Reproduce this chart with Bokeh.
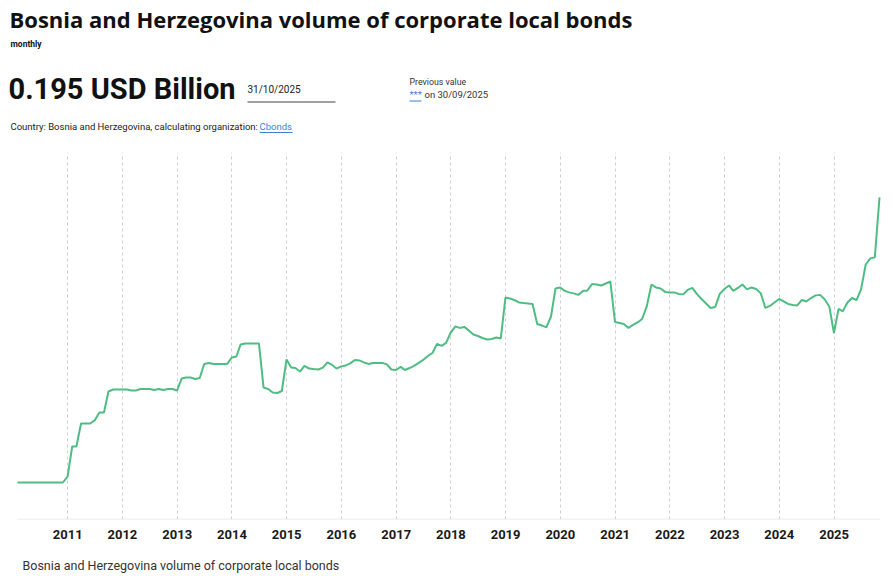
import pandas as pd
from bokeh.plotting import figure
from bokeh.models import Range1d, FixedTicker, DatetimeTickFormatter
from bokeh.layouts import column
from bokeh.core.properties import value
from bokeh.embed import file_html
from bokeh.resources import INLINE

# Monthly volume of corporate local bonds, USD billion (month-end values)
v2010 = [0.0224, 0.0224, 0.0224, 0.0224, 0.0224, 0.0224, 0.0224, 0.0224, 0.0224, 0.0224, 0.0224, 0.0260]
v2011 = [0.0442, 0.0442, 0.0581, 0.0581, 0.0581, 0.0600, 0.0648, 0.0648, 0.0775, 0.0787, 0.0787, 0.0787]
v2012 = [0.0787, 0.0781, 0.0781, 0.0790, 0.0790, 0.0790, 0.0784, 0.0790, 0.0784, 0.0790, 0.0790, 0.0781]
v2013 = [0.0854, 0.0860, 0.0860, 0.0851, 0.0857, 0.0942, 0.0948, 0.0942, 0.0942, 0.0942, 0.0942, 0.0981]
v2014 = [0.0987, 0.1060, 0.1066, 0.1066, 0.1066, 0.1066, 0.0799, 0.0790, 0.0769, 0.0766, 0.0778, 0.0969]
v2015 = [0.0920, 0.0917, 0.0896, 0.0930, 0.0914, 0.0911, 0.0908, 0.0920, 0.0951, 0.0936, 0.0914, 0.0927]
v2016 = [0.0933, 0.0945, 0.0966, 0.0963, 0.0951, 0.0942, 0.0948, 0.0948, 0.0948, 0.0939, 0.0908, 0.0905]
v2017 = [0.0924, 0.0905, 0.0917, 0.0930, 0.0948, 0.0966, 0.0990, 0.1008, 0.1063, 0.1051, 0.1069, 0.1132]
v2018 = [0.1169, 0.1160, 0.1166, 0.1145, 0.1120, 0.1111, 0.1099, 0.1090, 0.1093, 0.1102, 0.1096, 0.1344]
v2019 = [0.1338, 0.1329, 0.1314, 0.1311, 0.1308, 0.1305, 0.1184, 0.1175, 0.1163, 0.1229, 0.1399, 0.1405]
v2020 = [0.1384, 0.1375, 0.1369, 0.1360, 0.1384, 0.1387, 0.1426, 0.1423, 0.1417, 0.1429, 0.1441, 0.1196]
v2021 = [0.1190, 0.1184, 0.1160, 0.1178, 0.1193, 0.1214, 0.1290, 0.1423, 0.1405, 0.1399, 0.1378, 0.1375]
v2022 = [0.1375, 0.1366, 0.1363, 0.1390, 0.1402, 0.1366, 0.1335, 0.1308, 0.1281, 0.1287, 0.1366, 0.1396]
v2023 = [0.1417, 0.1384, 0.1402, 0.1423, 0.1393, 0.1405, 0.1396, 0.1369, 0.1281, 0.1293, 0.1314, 0.1335]
v2024 = [0.1320, 0.1305, 0.1299, 0.1296, 0.1329, 0.1320, 0.1341, 0.1357, 0.1360, 0.1332, 0.1290, 0.1129]
v2025 = [0.1275, 0.1260, 0.1314, 0.1341, 0.1329, 0.1393, 0.1544, 0.1581, 0.1587, 0.195]

tick_years = list(range(2011, 2026))

TITLE = "Bosnia and Herzegovina volume of corporate local bonds"
LATEST = "0.195 USD Billion"
LATEST_DATE = "31/10/2025"
PREV_DATE = "30/09/2025"

values = (v2010 + v2011 + v2012 + v2013 + v2014 + v2015 + v2016 + v2017
          + v2018 + v2019 + v2020 + v2021 + v2022 + v2023 + v2024 + v2025)
dates = pd.date_range("2010-01-31", periods=len(values), freq="ME")

GREEN = "#4fbd83"
BLUE = "#3d7fd6"
W = 895
PAD_L, PAD_R = 17, 16   # empty margin either side of the plotted series, px


def bare(fig):
    fig.xgrid.visible = False
    fig.ygrid.visible = False


def txt(fig, x, y, s, size, color="#111111", style="normal", font="Roboto"):
    # y is the wanted baseline; the text anchor sits about 0.4em above it
    fig.text(x=[x], y=[y - 0.4 * size], text=[s], text_font=value(font),
             text_font_size=f"{size}px", text_font_style=style, text_color=color,
             text_baseline="alphabetic", text_align="left")


def panel(height):
    fig = figure(width=W, height=height, x_range=Range1d(0, W), y_range=Range1d(height, 0),
                 output_backend="svg", toolbar_location=None, x_axis_location=None,
                 y_axis_location=None, min_border=0, outline_line_color=None)
    bare(fig)
    return fig


# ---- header block (page pixel coordinates, y grows downward) ----
hdr = panel(152)
txt(hdr, 9, 27, TITLE, 22, "#111111", "bold", "Open Sans")
txt(hdr, 10, 47, "monthly", 8.5, "#111111", "bold")
txt(hdr, 8, 100, LATEST, 29, "#111111", "bold")
txt(hdr, 247, 92.5, LATEST_DATE, 10, "#222222")
hdr.segment(x0=[247], y0=[101.5], x1=[335], y1=[101.5], line_color="#444444", line_width=1.2)
txt(hdr, 409, 85, "Previous value", 8.8, "#333333")
txt(hdr, 409, 98, "***", 9.5, BLUE)
hdr.segment(x0=[409], y0=[100.5], x1=[421], y1=[100.5], line_color=BLUE, line_width=1)
txt(hdr, 424, 98, "on " + PREV_DATE, 9.5, "#333333")
txt(hdr, 10, 130, "Country: Bosnia and Herzegovina, calculating organization:", 9.5, "#222222")
txt(hdr, 259, 130, "Cbonds", 9.5, BLUE)
hdr.segment(x0=[259], y0=[132], x1=[292], y1=[132], line_color=BLUE, line_width=1)

# ---- line chart ----
t0, t1 = dates[0], dates[-1]
per_px = (t1 - t0) / (W - PAD_L - PAD_R)
p = figure(width=W, height=398, x_axis_type="datetime",
           x_range=Range1d(t0 - PAD_L * per_px, t1 + PAD_R * per_px),
           y_range=Range1d(0, 0.2222),
           output_backend="svg", toolbar_location=None, y_axis_location=None,
           min_border_left=0, min_border_right=0, min_border_top=0,
           min_border_bottom=31, outline_line_color=None)
p.ygrid.visible = False
p.xgrid.grid_line_color = "#cfcfcf"
p.xgrid.grid_line_dash = "3 3"
p.xgrid.grid_line_width = 1

ticks = [pd.Timestamp(f"{y}-01-01").value // 10**6 for y in tick_years]
p.xaxis.ticker = FixedTicker(ticks=ticks)
p.xaxis.formatter = DatetimeTickFormatter(days="%Y", months="%Y", years="%Y")
p.xaxis.axis_line_color = None
p.xaxis.major_tick_line_color = None
p.xaxis.minor_tick_line_color = None
p.xaxis.major_label_text_font = "Roboto"
p.xaxis.major_label_text_font_style = "bold"
p.xaxis.major_label_text_font_size = "13px"
p.xaxis.major_label_text_color = "#1a1a1a"
p.xaxis.major_label_standoff = 4

# light base line under the series, spanning the dated period only
p.segment(x0=[t0], y0=[0], x1=[t1], y1=[0], line_color="#e6e6e6", line_width=1.5)
p.line(x=dates, y=values, line_color=GREEN, line_width=2)

# ---- footer caption ----
ftr = panel(32)
txt(ftr, 22, 19.5, TITLE, 12.5, "#333333")

layout = column(hdr, p, ftr, spacing=0)
open("out.html", "w").write(file_html(layout, INLINE))
